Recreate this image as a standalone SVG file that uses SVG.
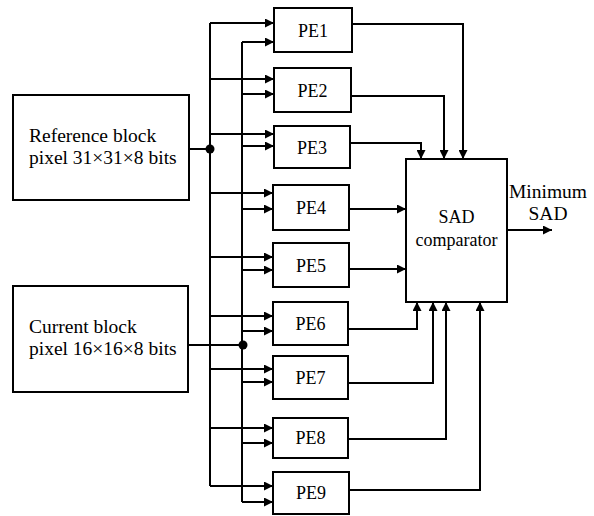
<svg xmlns="http://www.w3.org/2000/svg" width="594" height="516" viewBox="0 0 594 516">
<defs>
<marker id="ah" viewBox="0 0 10 10" refX="10" refY="5" markerWidth="10" markerHeight="9" markerUnits="userSpaceOnUse" orient="auto">
<path d="M0,0 L10,5 L0,10 z" fill="#000"/>
</marker>
</defs>
<style>
.box{fill:#fff;stroke:#000;stroke-width:2}
.t{font-family:"Liberation Serif","Times New Roman",serif;font-size:18px;fill:#000}
.big{font-size:19.5px}
.c{text-anchor:middle}
.ln{fill:none;stroke:#000;stroke-width:2}
.ar{fill:none;stroke:#000;stroke-width:2;marker-end:url(#ah)}
</style>
<rect width="594" height="516" fill="#fff"/>
<g id="connectors">
<path class="ln" d="M189,149 H210"/>
<path class="ln" d="M210,23 V486"/>
<path class="ln" d="M242,42 V502"/>
<path class="ln" d="M188,345 H242"/>
<circle cx="210" cy="149" r="4.5" fill="#000"/>
<circle cx="243" cy="345" r="4.5" fill="#000"/>
<path class="ar" d="M210,23 H274"/>
<path class="ar" d="M242,42 H274"/>
<path class="ar" d="M210,79 H274"/>
<path class="ar" d="M242,94 H274"/>
<path class="ar" d="M210,134 H274"/>
<path class="ar" d="M242,146 H274"/>
<path class="ar" d="M210,193 H273"/>
<path class="ar" d="M242,209 H273"/>
<path class="ar" d="M210,257 H273"/>
<path class="ar" d="M242,270 H273"/>
<path class="ar" d="M210,316 H273"/>
<path class="ar" d="M242,331 H273"/>
<path class="ar" d="M210,369 H273"/>
<path class="ar" d="M242,382 H273"/>
<path class="ar" d="M210,428 H273"/>
<path class="ar" d="M242,443 H273"/>
<path class="ar" d="M210,486 H273"/>
<path class="ar" d="M242,502 H273"/>
<path class="ar" d="M352,24 H463 V159"/>
<path class="ar" d="M351,96 H444 V159"/>
<path class="ar" d="M350,143 H421 V159"/>
<path class="ar" d="M349,209 H406"/>
<path class="ar" d="M349,269 H406"/>
<path class="ar" d="M348,329 H417 V302"/>
<path class="ar" d="M348,383 H433 V302"/>
<path class="ar" d="M348,439 H446 V302"/>
<path class="ar" d="M349,490 H480 V302"/>
<path class="ar" d="M507,230 H552"/>
</g>
<g id="ref-block">
<rect class="box" x="13" y="95" width="176" height="105"/>
<text class="t big" x="29" y="142">Reference block</text>
<text class="t big" x="29" y="164">pixel 31×31×8 bits</text>
</g>
<g id="cur-block">
<rect class="box" x="13" y="286" width="175" height="106"/>
<text class="t big" x="29" y="333">Current block</text>
<text class="t big" x="29" y="355">pixel 16×16×8 bits</text>
</g>
<g id="pe1"><rect class="box" x="274" y="8" width="78" height="44"/><text class="t c" x="313" y="37">PE1</text></g>
<g id="pe2"><rect class="box" x="274" y="68" width="77" height="44"/><text class="t c" x="312.5" y="97">PE2</text></g>
<g id="pe3"><rect class="box" x="274" y="126" width="76" height="42"/><text class="t c" x="312" y="154">PE3</text></g>
<g id="pe4"><rect class="box" x="273" y="185" width="76" height="45"/><text class="t c" x="311" y="214">PE4</text></g>
<g id="pe5"><rect class="box" x="273" y="243" width="76" height="44"/><text class="t c" x="311" y="272">PE5</text></g>
<g id="pe6"><rect class="box" x="273" y="302" width="75" height="43"/><text class="t c" x="310.5" y="330">PE6</text></g>
<g id="pe7"><rect class="box" x="273" y="356" width="75" height="43"/><text class="t c" x="310.5" y="384">PE7</text></g>
<g id="pe8"><rect class="box" x="273" y="418" width="75" height="40"/><text class="t c" x="310.5" y="444">PE8</text></g>
<g id="pe9"><rect class="box" x="273" y="472" width="76" height="42"/><text class="t c" x="311" y="499">PE9</text></g>
<g id="sad">
<rect class="box" x="406" y="159" width="101" height="143"/>
<text class="t c" x="456.5" y="223">SAD</text>
<text class="t c" x="456.5" y="246">comparator</text>
</g>
<g id="output-label">
<text class="t big c" x="548" y="198">Minimum</text>
<text class="t big c" x="548" y="220">SAD</text>
</g>
</svg>
